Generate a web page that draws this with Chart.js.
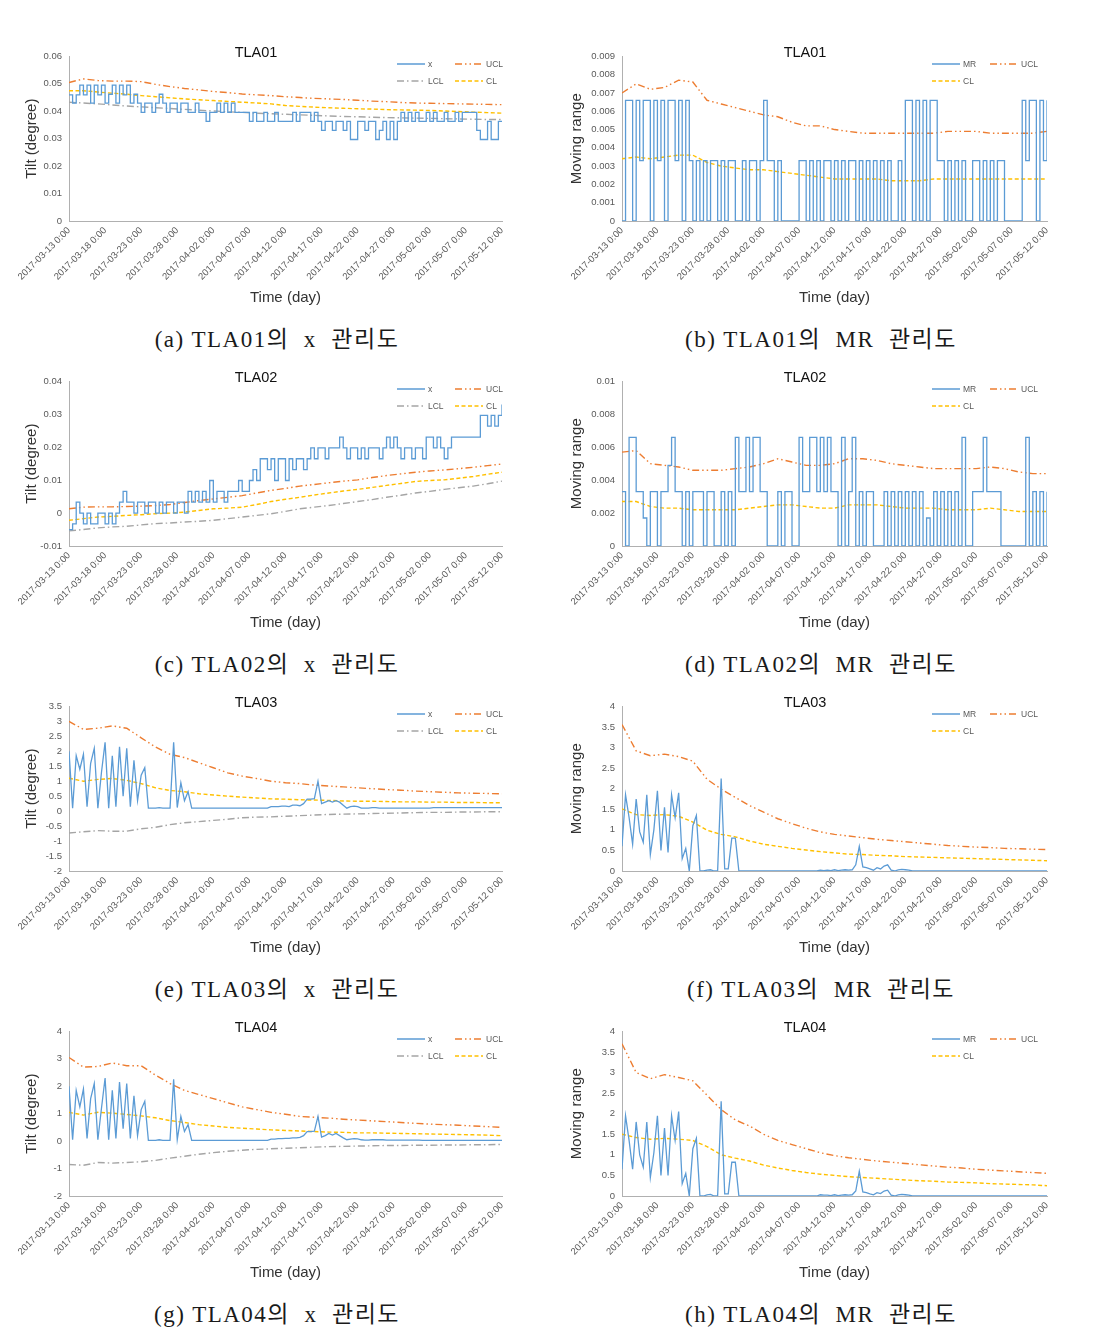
<!DOCTYPE html>
<html>
<head>
<meta charset="utf-8">
<script src="https://cdn.jsdelivr.net/npm/chart.js@4.4.1/dist/chart.umd.min.js"></script>
<style>
  body { margin: 0; background: #fff; width: 1104px; height: 1332px; position: relative; overflow: hidden; }
  .panel { position: absolute; }
  .legend { position: absolute; font: 8.5px 'Liberation Sans', Arial, sans-serif; color: #595959; }
  .legend .item { position: absolute; display: flex; align-items: center; white-space: nowrap; }
  .legend svg { margin-right: 3px; }
  .caption { position: absolute; font-family: 'Liberation Serif', 'Noto Sans CJK KR', serif; font-size: 23px;
             letter-spacing: 1.5px; white-space: pre; color: #1a1a1a; transform: translate(-50%, -50%); }
</style>
</head>
<body>
<script>
// x axis: days since 2017-03-13, labelled every 5 days
const tickLabels = ['2017-03-13 0:00', '2017-03-18 0:00', '2017-03-23 0:00', '2017-03-28 0:00',
  '2017-04-02 0:00', '2017-04-07 0:00', '2017-04-12 0:00', '2017-04-17 0:00', '2017-04-22 0:00',
  '2017-04-27 0:00', '2017-05-02 0:00', '2017-05-07 0:00', '2017-05-12 0:00'];
const SERIES_STEP = 0.5; // days between measurements
const LIMIT_STEP = 2;    // days between control limit samples

// ---- TLA01 ----
const tla01X = [0.046,0.043,0.046,0.0495,0.046,0.0495,0.043,0.0495,0.046,0.0495,0.043,0.0462,0.0495,0.043,0.0495,0.046,0.0495,0.043,0.0462,
  0.043,0.0396,0.043,0.043,0.0396,0.043,0.0462,0.043,0.0396,0.043,0.043,0.0396,0.043,0.043,
  0.0396,0.0396,0.043,0.0396,0.0396,0.0363,0.0396,0.0396,0.043,0.0396,0.043,0.0396,0.043,0.0396,
  0.0396,0.0396,0.0396,0.0363,0.0396,0.0363,0.0363,0.0396,0.0363,0.0363,0.0396,0.0363,0.0363,0.0363,
  0.0363,0.0396,0.0363,0.0396,0.0396,0.0396,0.0363,0.0396,0.0363,0.033,0.0363,0.0363,0.033,0.0363,
  0.0363,0.033,0.0363,0.0297,0.0297,0.0363,0.0363,0.033,0.0363,0.0363,0.0297,0.033,0.0363,0.0297,
  0.0363,0.0297,0.0363,0.0396,0.0363,0.0396,0.0363,0.0396,0.0363,0.0363,0.0396,0.0363,0.0396,0.0363,
  0.0363,0.0396,0.0363,0.0363,0.0396,0.0363,0.0396,0.0396,0.0396,0.0396,
  0.033,0.0297,0.0297,0.0363,0.0297,0.0297,0.0363,0.0363];
const tla01XUcl = [0.0505,0.0518,0.0512,0.051,0.051,0.0508,0.0498,0.049,0.0483,0.0478,0.0472,0.0468,0.0463,0.046,0.0457,0.0453,
  0.045,0.0447,0.0445,0.0443,0.044,0.0437,0.0435,0.0432,0.043,0.0429,0.0428,0.0427,0.0426,0.0425,0.0424];
const tla01XCl = [0.0475,0.0475,0.047,0.0466,0.0462,0.0457,0.0453,0.0449,0.0445,0.0442,0.0439,0.0436,0.0433,0.043,0.0427,0.0421,
  0.0418,0.0415,0.0413,0.0411,0.0409,0.0408,0.0406,0.0405,0.0404,0.0403,0.0401,0.0399,0.0397,0.0395,0.0393];
const tla01XLcl = [0.0433,0.043,0.0427,0.0423,0.0419,0.0416,0.0413,0.041,0.0407,0.0404,0.0401,0.0398,0.0396,0.0393,0.0391,0.0389,
  0.0387,0.0385,0.0383,0.0381,0.038,0.0378,0.0377,0.0376,0.0375,0.0374,0.0373,0.0372,0.0371,0.037,0.037];
const tla01Mr = [0,0.0066,0.0066,0,0.0066,0.0033,0.0066,0.0066,0,0.0066,0.0033,0.0066,0,0.0066,0.0066,0.0033,0.0066,0,0.0066,0.0033,0,
  0.0033,0,0.0033,0,0.0033,0.0033,0,0.0033,0,0.0033,0.0033,0,0,0.0033,0,0.0033,0.0033,0,0.0033,0.0066,
  0.0033,0.0033,0,0.0033,0,0,0,0,0,0.0033,
  0.0033,0,0.0033,0,0.0033,0,0.0033,0.0033,0,0.0033,0,0.0033,0,0.0033,0.0033,0,0.0033,0,0.0033,0,0.0033,0,0.0033,0,0.0033,0,0,0.0033,0,0.0066,
  0.0066,0,0.0066,0,0.0066,0,0.0066,0.0066,0.0033,0.0033,0,0.0033,0,0.0033,
  0,0.0033,0,0,0.0033,0.0033,0,0.0033,0,0.0033,0,0.0033,0.0033,0,0,0,0,0,
  0.0066,0.0033,0.0066,0.0066,0,0.0066,0.0033,0.0066];
const tla01MrUcl = [0.007,0.0075,0.0072,0.0073,0.0077,0.0076,0.0066,0.0064,0.0062,0.006,0.0058,0.0057,0.0054,0.0052,0.0052,0.005,
  0.0049,0.0048,0.0048,0.0048,0.0048,0.0048,0.0048,0.0049,0.0049,0.0049,0.0048,0.0048,0.0048,0.0048,0.0049];
const tla01MrCl = [0.0034,0.0035,0.0034,0.0035,0.0036,0.0036,0.0032,0.003,0.0029,0.0028,0.0028,0.0027,0.0026,0.0025,0.0024,0.0023,
  0.0023,0.0023,0.0023,0.0022,0.0022,0.0022,0.0023,0.0023,0.0023,0.0023,0.0023,0.0023,0.0023,0.0023,0.0023];

// ---- TLA02 ----
const tla02X = [-0.005,-0.0033,0.0033,0,-0.0033,0,-0.0033,-0.0033,0,0,-0.0033,
  0,-0.0033,0,0.0033,0.0066,0.0033,0.0033,0,0.0033,0.0033,
  0,0.0033,0.0033,0,0.0033,0,0.0033,0.0033,0,0.0033,0.0033,0,
  0.0066,0.0033,0.0066,0.0033,0.0066,0.0033,0.0099,0.0033,0.0066,0.0066,0.0033,0.0066,0.0066,0.0066,
  0.0099,0.0066,0.0066,0.0099,0.0132,0.0099,
  0.0165,0.0165,0.0132,0.0165,0.0099,0.0165,0.0165,0.0099,
  0.0165,0.0132,0.0165,0.0165,0.0132,0.0165,0.0198,0.0165,
  0.0198,0.0198,0.0165,0.0198,0.0198,0.0198,0.0231,0.0198,0.0165,0.0198,0.0198,0.0165,0.0198,0.0165,0.0198,0.0198,0.0198,0.0165,0.0198,0.0231,
  0.0198,0.0231,0.0198,0.0165,0.0198,0.0198,0.0165,0.0198,0.0198,0.0165,0.0231,0.0231,
  0.0198,0.0231,0.0198,0.0165,0.0198,0.0231,
  0.0231,0.0231,0.0231,0.0231,0.0231,0.0231,0.0231,0.0297,
  0.0297,0.0264,0.0297,0.0264,0.0297,0.033];
const tla02XUcl = [0.0013,0.0018,0.0019,0.0019,0.002,0.0021,0.0023,0.0026,0.0032,0.0038,0.0043,0.0048,0.0053,0.0061,0.0069,0.0075,
  0.0082,0.0087,0.0092,0.0097,0.0101,0.0108,0.0114,0.0119,0.0124,0.0128,0.0131,0.0135,0.0139,0.0144,0.0149];
const tla02XCl = [-0.0022,-0.0017,-0.0012,-0.001,-0.0007,-0.0005,-0.0002,0,0.0003,0.0008,0.0013,0.0015,0.0018,0.0026,0.0035,0.0042,
  0.0048,0.0055,0.0061,0.0067,0.0072,0.0078,0.0084,0.009,0.0096,0.0099,0.0101,0.0106,0.0111,0.0118,0.0124];
const tla02XLcl = [-0.0054,-0.005,-0.0045,-0.0042,-0.004,-0.0036,-0.0032,-0.003,-0.0027,-0.0025,-0.0022,-0.0017,-0.0012,-0.0007,-0.0002,0.0005,
  0.0013,0.0018,0.0023,0.0029,0.0035,0.0041,0.0048,0.0054,0.0061,0.0066,0.0072,0.0077,0.0082,0.0089,0.0097];
const tla02Mr = [0.0033,0,0.0066,0.0066,0.0033,0.0033,0.0017,0,0.0033,0.0033,0,
  0.0033,0.0033,0.0049,0.0066,0.0033,0.0033,0,0.0033,0,0.0033,
  0.0033,0.0033,0,0.0033,0.0033,0,0,0.0033,0,0.0033,0,0.0066,
  0.0033,0.0033,0.0066,0.0033,0.0066,0.0066,0.0033,0.0033,0,0,0,0.0033,
  0,0.0033,0.0033,0,0,0.0066,0.0033,0.0033,0.0066,0.0066,0.0033,0.0066,
  0.0033,0.0066,0.0033,0.0033,0,0.0066,0,0.0033,0.0066,0,0.0033,0,
  0.0033,0.0033,0,0,0,0.0033,0,0.0033,
  0,0.0033,0,0.0033,0,0.0033,0,0.0033,0,0.0017,0,0.0033,0,0.0033,0,0.0033,0,0.0033,
  0,0.0066,0,0,0.0033,0.0033,0.0033,0.0066,0.0033,0.0033,0.0033,0.0033,
  0,0,0,0,0,0,0,0.0066,
  0,0.0033,0,0.0033,0,0.0033];
const tla02MrUcl = [0.0057,0.0058,0.005,0.0049,0.0048,0.0046,0.0046,0.0046,0.0047,0.0048,0.005,0.0053,0.0051,0.0049,0.0049,0.005,
  0.0053,0.0053,0.0052,0.005,0.0049,0.0048,0.0047,0.0047,0.0047,0.0047,0.0048,0.0047,0.0045,0.0044,0.0044];
const tla02MrCl = [0.0027,0.0027,0.0024,0.0023,0.0023,0.0022,0.0022,0.0022,0.0022,0.0023,0.0024,0.0025,0.0025,0.0024,0.0023,0.0023,
  0.0025,0.0025,0.0025,0.0024,0.0023,0.0023,0.0023,0.0022,0.0022,0.0022,0.0023,0.0022,0.0021,0.0021,0.0021];

// ---- TLA03 ----
const tla03X = [2.0,0.1,1.85,1.4,1.9,0.15,1.6,2.1,0.1,1.3,2.3,0.1,1.85,0.15,2.15,0.5,2.1,0.15,1.7,0.35,1.2,1.45,
  0.1,0.1,0.1,0.12,0.1,0.1,0.1,2.3,0.12,0.95,0.35,0.65,
  0.1,0.1,0.1,0.1,0.1,0.1,0.1,0.1,0.1,0.1,0.1,0.1,0.1,0.1,0.1,0.1,0.1,0.1,0.1,0.1,0.1,0.1,
  0.15,0.15,0.15,0.17,0.17,0.15,0.2,0.2,0.18,0.25,
  0.4,0.4,0.42,1.0,0.25,0.3,0.35,0.3,0.35,0.3,0.2,0.1,
  0.15,0.17,0.15,0.1,0.1,0.1,
  0.12,0.12,0.1,0.1,0.1,0.1,0.1,0.1,0.1,0.1,0.1,0.1,0.1,0.1,0.1,0.1,0.1,0.12,0.12,0.12,
  0.12,0.12,0.12,0.12,0.12,0.12,0.12,0.12,0.12,0.12,0.12,0.12,0.12,0.12,0.12,0.12,0.12];
const tla03XUcl = [3.0,2.73,2.77,2.85,2.77,2.45,2.14,1.9,1.79,1.62,1.45,1.28,1.17,1.09,1.0,0.95,
  0.92,0.87,0.84,0.81,0.78,0.75,0.72,0.7,0.67,0.65,0.63,0.61,0.6,0.59,0.58];
const tla03XCl = [1.1,1.0,1.06,1.09,1.03,0.92,0.78,0.69,0.65,0.58,0.54,0.5,0.47,0.44,0.41,0.4,
  0.38,0.37,0.36,0.34,0.33,0.33,0.32,0.31,0.31,0.3,0.3,0.29,0.29,0.28,0.28];
const tla03XLcl = [-0.73,-0.69,-0.65,-0.67,-0.67,-0.59,-0.54,-0.45,-0.39,-0.35,-0.31,-0.27,-0.22,-0.2,-0.19,-0.17,
  -0.15,-0.13,-0.11,-0.1,-0.09,-0.08,-0.07,-0.06,-0.05,-0.04,-0.04,-0.03,-0.03,-0.02,-0.02];
const tla03Mr = [0.6,1.85,1.3,0.65,1.75,0.95,0.7,1.85,0.4,1.0,1.95,0.5,1.55,0.45,1.85,1.3,1.9,0.3,0.55,0,1.1,1.35,0,
  0,0.02,0.03,0,0,
  2.25,0.05,0.05,0.8,0.8,0,
  0,0,0,0,0,0,0,0,0,0,0,0,0,0,0,0,0,0,0,0,0,0,
  0.02,0.01,0.02,0.01,0.03,0.01,0.02,0.03,0.02,0.03,0.15,0.6,0.1,0.08,0.05,0.02,0.08,0.05,0.12,0.15,0.02,0,0.03,0.04,0.03,0.02,
  0,0,0,0,0,0,0,0,0,0,0,0,0,0,0,0,0,0,0,0,0,0,0,0,0,0,0,0,0,0,0,0,0,0,0,0,0,0,0];
const tla03MrUcl = [3.56,2.92,2.8,2.84,2.78,2.67,2.23,1.99,1.79,1.59,1.43,1.27,1.15,1.04,0.95,0.89,
  0.85,0.81,0.77,0.74,0.71,0.68,0.65,0.62,0.6,0.58,0.57,0.55,0.54,0.53,0.52];
const tla03MrCl = [1.51,1.37,1.35,1.37,1.33,1.19,0.99,0.89,0.83,0.73,0.65,0.6,0.55,0.51,0.47,0.44,
  0.41,0.4,0.38,0.37,0.35,0.34,0.33,0.32,0.31,0.3,0.29,0.28,0.27,0.26,0.25];

// ---- TLA04 ----
const tla04X = [2.0,0.05,1.85,1.25,1.9,0.1,1.55,2.1,0.05,1.2,2.3,0.05,1.85,0.1,2.15,0.45,2.1,0.1,1.65,0.2,1.15,1.45,
  0.03,0.03,0.03,0.05,0.03,0.03,0.03,2.25,0.05,0.9,0.35,0.6,
  0.03,0.03,0.03,0.03,0.03,0.03,0.03,0.03,0.03,0.03,0.03,0.03,0.03,0.03,0.03,0.03,0.03,0.03,0.03,0.03,0.03,0.03,
  0.07,0.07,0.09,0.09,0.1,0.1,0.12,0.12,0.14,0.2,
  0.35,0.35,0.36,0.9,0.15,0.2,0.28,0.22,0.28,0.2,0.12,0.05,
  0.07,0.09,0.08,0.05,0.04,0.04,
  0.05,0.05,0.05,0.05,0.04,0.04,0.04,0.04,0.04,0.04,0.04,0.04,0.04,0.04,0.03,0.03,0.03,0.03,0.03,0.03,
  0.03,0.03,0.03,0.03,0.03,0.03,0.03,0.03,0.03,0.03,0.03,0.03,0.03,0.03,0.03,0.03,0.03];
const tla04XUcl = [3.05,2.7,2.72,2.85,2.75,2.75,2.4,2.1,1.85,1.7,1.55,1.4,1.25,1.15,1.05,0.98,
  0.9,0.87,0.84,0.8,0.77,0.74,0.71,0.68,0.65,0.62,0.6,0.58,0.55,0.53,0.5];
const tla04XCl = [1.05,0.95,1.05,1.02,0.97,0.92,0.85,0.75,0.68,0.6,0.55,0.5,0.47,0.44,0.41,0.39,
  0.37,0.35,0.33,0.32,0.3,0.3,0.29,0.28,0.27,0.26,0.25,0.24,0.23,0.22,0.2];
const tla04XLcl = [-0.85,-0.88,-0.78,-0.8,-0.78,-0.75,-0.7,-0.62,-0.55,-0.48,-0.42,-0.37,-0.33,-0.3,-0.28,-0.26,
  -0.24,-0.22,-0.2,-0.19,-0.18,-0.17,-0.16,-0.16,-0.15,-0.15,-0.14,-0.14,-0.13,-0.13,-0.12];
const tla04Mr = [0.65,1.95,1.35,0.65,1.8,1.0,0.7,1.8,0.45,1.05,1.95,0.5,1.65,0.5,1.95,1.35,2.05,0.3,0.55,0,1.15,1.4,0,
  0,0.03,0.04,0,0,
  2.3,0.05,0.05,0.82,0.82,0,
  0,0,0,0,0,0,0,0,0,0,0,0,0,0,0,0,0,0,0,0,0,0,
  0.03,0.02,0.02,0.01,0.03,0.01,0.02,0.03,0.02,0.03,0.12,0.6,0.1,0.08,0.05,0.03,0.08,0.06,0.12,0.14,0.02,0,0.03,0.04,0.03,0.02,
  0,0,0,0,0,0,0,0,0,0,0,0,0,0,0,0,0,0,0,0,0,0,0,0,0,0,0,0,0,0,0,0,0,0,0,0,0,0,0];
const tla04MrUcl = [3.7,3.0,2.85,2.95,2.88,2.8,2.45,2.1,1.85,1.7,1.5,1.35,1.25,1.15,1.05,0.98,
  0.93,0.89,0.85,0.82,0.79,0.76,0.73,0.7,0.68,0.65,0.63,0.61,0.59,0.57,0.55];
const tla04MrCl = [1.5,1.42,1.38,1.4,1.38,1.35,1.2,1.0,0.92,0.85,0.75,0.68,0.62,0.57,0.53,0.5,
  0.47,0.45,0.43,0.41,0.39,0.37,0.36,0.34,0.33,0.32,0.3,0.29,0.28,0.27,0.25];

// line styles (Excel-like colours and dashes)
const styles = {
  step: { color: '#5B9BD5', dash: [], width: 1.3, step: SERIES_STEP, stepped: true },
  main: { color: '#5B9BD5', dash: [], width: 1.3, step: SERIES_STEP, stepped: false },
  ucl:  { color: '#ED7D31', dash: [7, 3, 1.5, 3, 1.5, 3], width: 1.4, step: LIMIT_STEP, stepped: false },
  lcl:  { color: '#A5A5A5', dash: [7, 3, 1.5, 3], width: 1.4, step: LIMIT_STEP, stepped: false },
  cl:   { color: '#FFC000', dash: [4, 2.5], width: 1.4, step: LIMIT_STEP, stepped: false }
};

const panels = [
  { row: 0, col: 0, title: 'TLA01', yTitle: 'Tilt (degree)', caption: '(a) TLA01의  x  관리도', min: 0, max: 0.06, step: 0.01,
    series: [['x', tla01X, 'step'], ['UCL', tla01XUcl, 'ucl'], ['LCL', tla01XLcl, 'lcl'], ['CL', tla01XCl, 'cl']] },
  { row: 0, col: 1, title: 'TLA01', yTitle: 'Moving range', caption: '(b) TLA01의  MR  관리도', min: 0, max: 0.009, step: 0.001,
    series: [['MR', tla01Mr, 'step'], ['UCL', tla01MrUcl, 'ucl'], ['CL', tla01MrCl, 'cl']] },
  { row: 1, col: 0, title: 'TLA02', yTitle: 'Tilt (degree)', caption: '(c) TLA02의  x  관리도', min: -0.01, max: 0.04, step: 0.01,
    series: [['x', tla02X, 'step'], ['UCL', tla02XUcl, 'ucl'], ['LCL', tla02XLcl, 'lcl'], ['CL', tla02XCl, 'cl']] },
  { row: 1, col: 1, title: 'TLA02', yTitle: 'Moving range', caption: '(d) TLA02의  MR  관리도', min: 0, max: 0.01, step: 0.002,
    series: [['MR', tla02Mr, 'step'], ['UCL', tla02MrUcl, 'ucl'], ['CL', tla02MrCl, 'cl']] },
  { row: 2, col: 0, title: 'TLA03', yTitle: 'Tilt (degree)', caption: '(e) TLA03의  x  관리도', min: -2, max: 3.5, step: 0.5,
    series: [['x', tla03X, 'main'], ['UCL', tla03XUcl, 'ucl'], ['LCL', tla03XLcl, 'lcl'], ['CL', tla03XCl, 'cl']] },
  { row: 2, col: 1, title: 'TLA03', yTitle: 'Moving range', caption: '(f) TLA03의  MR  관리도', min: 0, max: 4, step: 0.5,
    series: [['MR', tla03Mr, 'main'], ['UCL', tla03MrUcl, 'ucl'], ['CL', tla03MrCl, 'cl']] },
  { row: 3, col: 0, title: 'TLA04', yTitle: 'Tilt (degree)', caption: '(g) TLA04의  x  관리도', min: -2, max: 4, step: 1,
    series: [['x', tla04X, 'main'], ['UCL', tla04XUcl, 'ucl'], ['LCL', tla04XLcl, 'lcl'], ['CL', tla04XCl, 'cl']] },
  { row: 3, col: 1, title: 'TLA04', yTitle: 'Moving range', caption: '(h) TLA04의  MR  관리도', min: 0, max: 4, step: 0.5,
    series: [['MR', tla04Mr, 'main'], ['UCL', tla04MrUcl, 'ucl'], ['CL', tla04MrCl, 'cl']] }
];

Chart.defaults.font.family = "'Liberation Sans', Arial, sans-serif";

function makePanel(p) {
  const left = p.col === 0 ? 10 : 563;       // canvas left edge
  const width = p.col === 0 ? 530 : 537;
  const top = 38 + p.row * 325;
  const yWidth = 59;                          // plot starts at 69 / 622
  const rightPad = p.col === 0 ? 38 : 53;     // plot ends at 502 / 1047

  const canvas = document.createElement('canvas');
  canvas.className = 'panel';
  canvas.width = width;
  canvas.height = 272;
  canvas.style.left = left + 'px';
  canvas.style.top = top + 'px';
  document.body.appendChild(canvas);

  const chart = new Chart(canvas, {
    type: 'line',
    data: {
      datasets: p.series.map(([label, values, kind]) => {
        const s = styles[kind];
        return {
          label,
          data: values.map((v, i) => ({ x: i * s.step, y: v })),
          borderColor: s.color,
          borderDash: s.dash,
          borderWidth: s.width,
          stepped: s.stepped,
          pointRadius: 0,
          fill: false,
          tension: 0
        };
      })
    },
    options: {
      responsive: false,
      animation: false,
      layout: { padding: { left: 0, right: rightPad, top: 0, bottom: 0 } },
      plugins: {
        legend: { display: false },
        tooltip: { enabled: false },
        title: {
          display: true, text: p.title, color: '#111',
          font: { size: 14.5, weight: 'normal' },
          padding: { top: 6, bottom: -5 }
        }
      },
      scales: {
        x: {
          type: 'linear', min: 0, max: 60,
          grid: { display: false, drawTicks: false },
          border: { color: '#b0b0b0' },
          ticks: {
            stepSize: 5, autoSkip: false, minRotation: 45, maxRotation: 45, padding: 4,
            color: '#595959', font: { size: 9.5 },
            callback: v => tickLabels[Math.round(v / 5)]
          },
          title: { display: true, text: 'Time (day)', color: '#333', font: { size: 15 }, padding: { top: 0, bottom: 3 } },
          afterFit: s => { s.height = 89; }
        },
        y: {
          min: p.min, max: p.max,
          grid: { display: false, drawTicks: false },
          border: { color: '#b0b0b0' },
          ticks: {
            stepSize: p.step, padding: 7, color: '#595959', font: { size: 9.5 },
            callback: v => String(+v.toFixed(4))
          },
          title: { display: true, text: p.yTitle, color: '#333', font: { size: 15 },
                   padding: { top: p.col === 0 ? 13 : 5, bottom: 0 } },
          afterFit: s => { s.width = yWidth; }
        }
      }
    }
  });

  // legend in two columns, top right of the plot, built from the datasets
  const legend = document.createElement('div');
  legend.className = 'legend';
  legend.style.left = (p.col === 0 ? 397 : 932) + 'px';
  legend.style.top = (top + 21) + 'px';
  chart.data.datasets.forEach((ds, i) => {
    const item = document.createElement('div');
    item.className = 'item';
    item.style.left = (i % 2) * 58 + 'px';
    item.style.top = Math.floor(i / 2) * 17 + 'px';
    item.innerHTML = '<svg width="28" height="10"><line x1="0" y1="5" x2="28" y2="5" stroke="' + ds.borderColor +
      '" stroke-width="1.5" stroke-dasharray="' + (ds.borderDash.length ? ds.borderDash.join(' ') : 'none') + '"/></svg>' +
      '<span>' + ds.label + '</span>';
    legend.appendChild(item);
  });
  document.body.appendChild(legend);

  const cap = document.createElement('div');
  cap.className = 'caption';
  cap.textContent = p.caption;
  cap.style.left = (p.col === 0 ? 277 : 821) + 'px';
  cap.style.top = (337 + p.row * 325) + 'px';
  document.body.appendChild(cap);
}

panels.forEach(makePanel);
</script>
</body>
</html>
